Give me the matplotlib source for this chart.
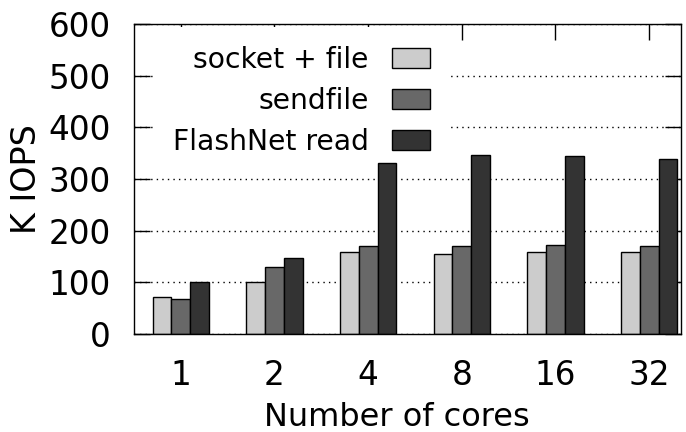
import numpy as np
import matplotlib
matplotlib.use('Agg')
import matplotlib.pyplot as plt
from matplotlib.patches import Patch

cores = ['1', '2', '4', '8', '16', '32']
socket_file = [72, 100, 159, 154, 159, 159]
sendfile = [68, 130, 170, 170, 172, 170]
flashnet_read = [101, 148, 330, 346, 345, 339]

series = [
    ('socket + file', socket_file, '#cccccc'),
    ('sendfile', sendfile, '#686868'),
    ('FlashNet read', flashnet_read, '#333333'),
]

plt.rcParams['font.family'] = 'DejaVu Sans'

fig = plt.figure(figsize=(6.86, 4.32), dpi=100)
ax = fig.add_axes([134 / 686, 1 - 334 / 432, 547 / 686, 310 / 432])

x = np.arange(len(cores))
width = 0.2
for i, (name, vals, color) in enumerate(series):
    ax.bar(x + (i - 1) * width, vals, width, color=color,
           edgecolor='black', linewidth=1.0, zorder=1)

ax.set_xlim(-0.5, 5.34)
ax.set_ylim(0, 600)
ax.set_yticks(range(0, 601, 100))
ax.set_xticks(x)
ax.set_xticklabels(cores)

# grid and ticks sit under the bars, as in the gnuplot original
ax.set_axisbelow(True)
ax.yaxis.grid(True, color='black', linestyle=(0, (1, 3)), linewidth=1.0)
ax.xaxis.grid(False)

ax.tick_params(axis='both', direction='in', length=11.5, width=1.0,
               labelsize=23.5, top=True, right=True)
ax.tick_params(axis='y', pad=17)
ax.tick_params(axis='x', pad=18)
for sp in ax.spines.values():
    sp.set_linewidth(1.0)

ax.set_ylabel('K IOPS', fontsize=24)
ax.yaxis.set_label_coords(-0.166, 0.5)
ax.set_xlabel('Number of cores', fontsize=23)
ax.xaxis.set_label_coords(0.481, -0.22)

handles = [Patch(facecolor=c, edgecolor='black', linewidth=1.0) for _, _, c in series]
leg = ax.legend(handles, [s[0] for s in series], loc='upper right',
                bbox_to_anchor=(449 / 686, 1 - 27 / 432),
                bbox_transform=fig.transFigure, borderaxespad=0,
                fontsize=20.3, markerfirst=False, frameon=True, fancybox=False,
                handlelength=1.35, handleheight=0.73, handletextpad=0.82,
                labelspacing=0.45, borderpad=0.68)
leg.get_frame().set_facecolor('white')
leg.get_frame().set_edgecolor('none')
leg.get_frame().set_alpha(1.0)
# opaque key covers the grid but stays below the bars
leg.set_zorder(0.8)

fig.savefig('out.png', dpi=100)
